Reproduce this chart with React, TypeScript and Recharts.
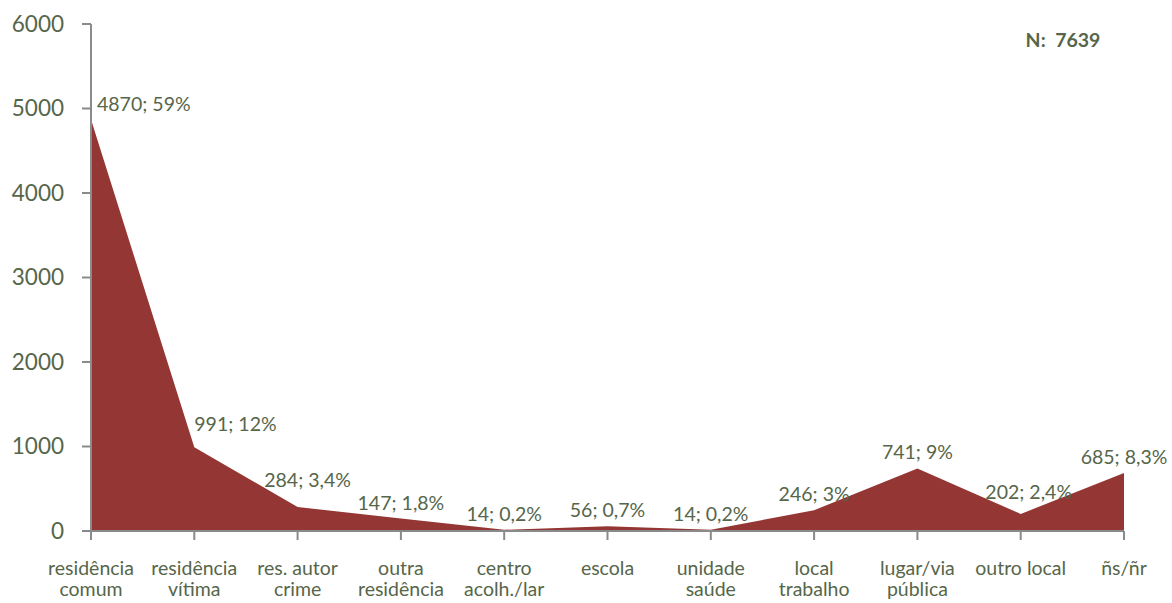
import { AreaChart, Area, XAxis, YAxis, LabelList } from "recharts";

const categories = [
  "residência\ncomum",
  "residência\nvítima",
  "res. autor\ncrime",
  "outra\nresidência",
  "centro\nacolh./lar",
  "escola",
  "unidade\nsaúde",
  "local\ntrabalho",
  "lugar/via\npública",
  "outro local",
  "ñs/ñr",
];
const counts = [4870, 991, 284, 147, 14, 56, 14, 246, 741, 202, 685];
const percents = ["59%", "12%", "3,4%", "1,8%", "0,2%", "0,7%", "0,2%", "3%", "9%", "2,4%", "8,3%"];
const yTicks = [0, 1000, 2000, 3000, 4000, 5000, 6000];

const data = categories.map((name, i) => ({
  name,
  count: counts[i],
  label: `${counts[i]}; ${percents[i]}`,
}));

const TEXT = "#56664a";
const AXIS = "#8a8a8a";
const FONT = "Lato, 'Open Sans', sans-serif";

function CategoryTick(props: any) {
  const { x, y, payload } = props;
  const lines = String(payload.value).split("\n");
  return (
    <text x={x} y={y} textAnchor="middle" fill={TEXT} fontSize={19.5} fontFamily={FONT}>
      {lines.map((l, i) => (
        <tspan key={i} x={x} dy={i === 0 ? 33 : 21}>
          {l}
        </tspan>
      ))}
    </text>
  );
}

function ValueLabel(props: any) {
  const { x, y, value, index } = props;
  let anchor = "middle";
  let dx = 0;
  let dy = -9;
  if (index === 0) {
    anchor = "start";
    dx = 6;
    dy = -8;
  } else if (index === 1) {
    anchor = "start";
    dy = -16;
  } else if (index === 2) {
    dx = 10;
    dy = -20;
  } else if (index === 9) {
    dx = 8;
    dy = -15;
  }
  return (
    <text x={x + dx} y={y + dy} textAnchor={anchor} fill={TEXT} fontSize={19.5} fontFamily={FONT}>
      {value}
    </text>
  );
}

export default function App() {
  return (
    <div style={{ position: "absolute", left: 0, top: 0, width: 1172, height: 603, background: "#fff" }}>
      <AreaChart width={1172} height={603} data={data} margin={{ top: 24, right: 48, bottom: 0, left: 0 }}>
        <XAxis
          dataKey="name"
          interval={0}
          height={72}
          stroke={AXIS}
          strokeWidth={2}
          tickSize={9}
          tickLine={{ stroke: AXIS, strokeWidth: 2 }}
          tick={<CategoryTick />}
        />
        <YAxis
          domain={[0, 6000]}
          ticks={yTicks}
          width={91}
          stroke={AXIS}
          strokeWidth={2}
          tickSize={9}
          tickMargin={18}
          tickLine={{ stroke: AXIS, strokeWidth: 2 }}
          tick={{ fill: TEXT, fontSize: 22.5, fontFamily: FONT }}
        />
        <Area
          type="linear"
          dataKey="count"
          stroke="none"
          fill="#943634"
          fillOpacity={1}
          isAnimationActive={false}
        >
          <LabelList dataKey="label" content={<ValueLabel />} />
        </Area>
        <text
          x={1063}
          y={47}
          textAnchor="middle"
          fill={TEXT}
          fontSize={19.5}
          fontWeight="bold"
          fontFamily={FONT}
          style={{ whiteSpace: "pre" }}
        >
          N:  7639
        </text>
      </AreaChart>
    </div>
  );
}
